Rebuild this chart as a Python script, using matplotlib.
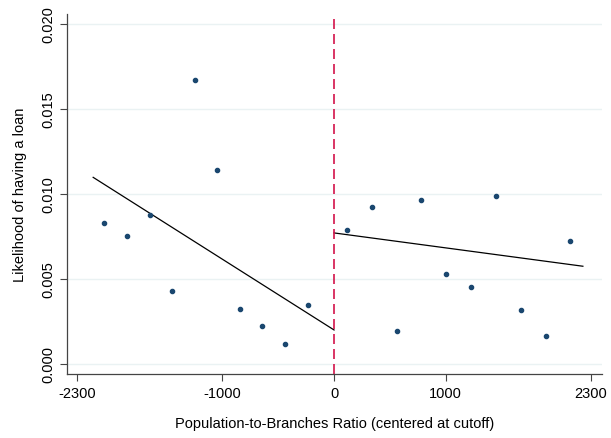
import matplotlib.pyplot as plt

plt.rcParams['font.family'] = ['Liberation Sans', 'DejaVu Sans']
plt.rcParams['axes.unicode_minus'] = False

# binned means, left of cutoff
left_x = [-2055, -1853, -1651, -1449, -1247, -1045, -843, -641, -439, -237]
left_y = [0.00828, 0.00755, 0.00876, 0.00429, 0.01671, 0.01141, 0.00324, 0.00225, 0.00118, 0.00347]
# binned means, right of cutoff
right_x = [114, 337, 561, 782, 1002, 1225, 1446, 1670, 1894, 2115]
right_y = [0.00790, 0.00922, 0.00192, 0.00963, 0.00528, 0.00451, 0.00986, 0.00318, 0.00163, 0.00724]
# linear fits (endpoints)
fit_left_x = [-2156, 0]
fit_left_y = [0.01098, 0.00200]
fit_right_x = [0, 2227]
fit_right_y = [0.00771, 0.00575]

xticks = [-2300, -1000, 0, 1000, 2300]
yticks = [0.000, 0.005, 0.010, 0.015, 0.020]

fig = plt.figure(figsize=(6.11, 4.39), dpi=100)
ax = fig.add_axes([0.1097, 0.1458, 0.875, 0.82])

for y in yticks:
    ax.axhline(y, color="#eaf2f3", lw=1, zorder=0)

ax.scatter(left_x, left_y, s=9, color="#1a476f", zorder=3)
ax.scatter(right_x, right_y, s=9, color="#1a476f", zorder=3)
ax.plot(fit_left_x, fit_left_y, color="black", lw=0.9)
ax.plot(fit_right_x, fit_right_y, color="black", lw=0.9)
ax.axvline(0, color="#d3134a", lw=1.2, ls=(0, (6, 3)), zorder=2)

ax.set_xlim(-2390, 2395)
ax.set_ylim(-0.00059, 0.02059)
ax.set_xticks(xticks)
ax.set_yticks(yticks)
ax.set_yticklabels([f"{v:.3f}" for v in yticks], rotation=90, va="center")
ax.tick_params(labelsize=10.5, length=5, width=0.8, color="#444444")

for s in ["top", "right"]:
    ax.spines[s].set_visible(False)
for s in ["left", "bottom"]:
    ax.spines[s].set_color("#444444")
    ax.spines[s].set_linewidth(0.9)

ax.set_xlabel("Population-to-Branches Ratio (centered at cutoff)", fontsize=10.5, labelpad=12)
ax.set_ylabel("Likelihood of having a loan", fontsize=10.5, labelpad=10)

fig.savefig("out.png", dpi=100)
